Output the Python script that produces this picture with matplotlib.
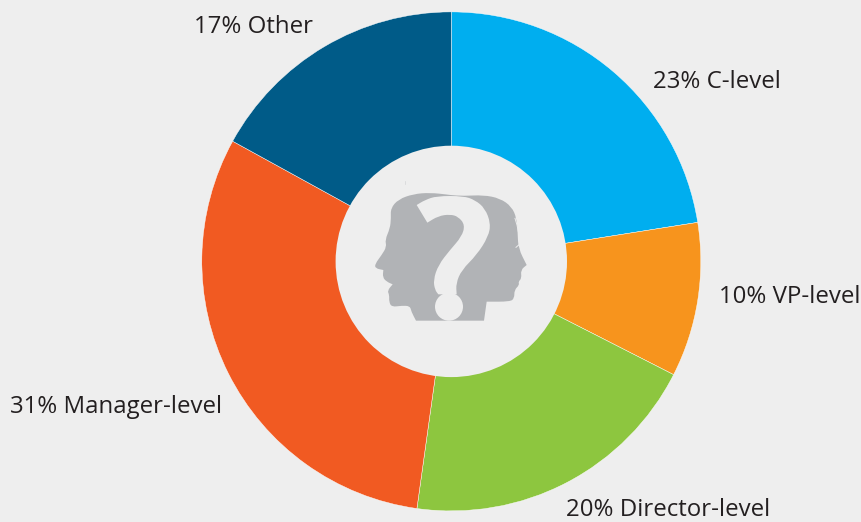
import matplotlib
matplotlib.use("Agg")
import matplotlib.pyplot as plt
from matplotlib.patches import Circle, PathPatch
from matplotlib.path import Path

labels = ["23% C-level", "10% VP-level", "20% Director-level", "31% Manager-level", "17% Other"]
# slice sizes as drawn; the printed percentages add up to 101
shares = [22.5, 10, 19.7, 30.8, 17]
colors = ["#00aeef", "#f7941d", "#8dc63f", "#f15a22", "#005b88"]
label_pos = [(653, 88), (719, 303), (566, 516), (10, 413), (194, 33)]

W, H = 861, 522
GREY = "#b1b3b6"
BG = "#eeeeee"


def left(x, y):
    return (370 + x / 3, 190 + y / 3)


def right(x, y):
    return (450 + x / 3, 190 + y / 3)


# icon outline, doubled points stay sharp
heads = [left(138, 392), left(138, 392), left(124, 365), left(120, 348), left(95, 347), left(65, 351),
         left(57, 335), left(58, 315), left(52, 302), left(68, 283), left(68, 283), left(50, 275),
         left(38, 262), left(40, 240), left(40, 240), left(16, 235), left(15, 222), left(35, 195),
         left(50, 170), left(45, 150), left(60, 115), left(63, 85), left(62, 55), left(85, 28),
         left(130, 12), left(180, 8), left(235, 14), left(240, 15), right(40, 18), right(100, 15),
         right(150, 25), right(185, 50), right(200, 85), right(203, 130), right(205, 175),
         right(230, 225), right(230, 225), right(212, 240), right(215, 265), right(205, 275),
         right(208, 285), right(193, 300), right(193, 325), right(180, 335), right(110, 335),
         right(110, 335), right(102, 392), right(102, 392)]
mark = [left(140, 45), left(140, 45), left(172, 98), left(172, 98), left(205, 78), right(0, 73),
        right(25, 80), right(45, 105), right(35, 140), left(240, 180), left(205, 225), left(190, 270),
        left(195, 300), left(205, 313), left(205, 313), right(20, 313), right(20, 313), right(18, 280),
        right(35, 240), right(80, 195), right(115, 140), right(122, 100), right(105, 55), right(75, 30),
        right(40, 18), left(200, 18), left(165, 30), left(140, 45), left(140, 45)]
strands = [[right(195, 85), right(201, 105), right(205, 125)], [right(198, 172), right(212, 160)]]
speck = [(405, 181), (405, 184)]


def smooth(pts):
    # quadratic segments through the midpoints of the traced points
    pts = [(x, H - y) for x, y in pts]
    mids = [((a[0] + b[0]) / 2, (a[1] + b[1]) / 2) for a, b in zip(pts, pts[1:] + pts[:1])]
    verts = [mids[-1]]
    codes = [Path.MOVETO]
    for p, m in zip(pts, mids):
        verts += [p, m]
        codes += [Path.CURVE3, Path.CURVE3]
    return Path(verts, codes)


fig = plt.figure(figsize=(W / 100, H / 100), dpi=100, facecolor=BG)
ax = fig.add_axes([0, 0, 1, 1])

cx, cy = 451.3, H - 261.4
ax.pie(shares, colors=colors, startangle=90, counterclock=False, center=(cx, cy), radius=249.5,
       frame=True, wedgeprops=dict(linewidth=0.3, edgecolor="white"))
ax.set_xlim(0, W)
ax.set_ylim(0, H)
ax.set_aspect("equal")
ax.axis("off")

ax.add_patch(Circle((cx, cy), 115.7, fc=BG, ec="none", zorder=3))
ax.add_patch(PathPatch(smooth(heads), fc=GREY, ec="none", zorder=4))
ax.add_patch(PathPatch(smooth(mark), fc=BG, ec="none", zorder=5))
ax.add_patch(Circle((449, H - 306.7), 14, fc=BG, ec="none", zorder=5))
for s in strands:
    ax.plot([p[0] for p in s], [H - p[1] for p in s], color=BG, lw=0.7, zorder=5)
ax.plot([p[0] for p in speck], [H - p[1] for p in speck], color="#d4d5d7", lw=0.5, zorder=5)

for txt, (x, y) in zip(labels, label_pos):
    ax.text(x, H - y, txt, fontsize=17.3, family="Open Sans", color="#231f20", ha="left", va="baseline")

fig.savefig("out.png", dpi=100, facecolor=BG)
